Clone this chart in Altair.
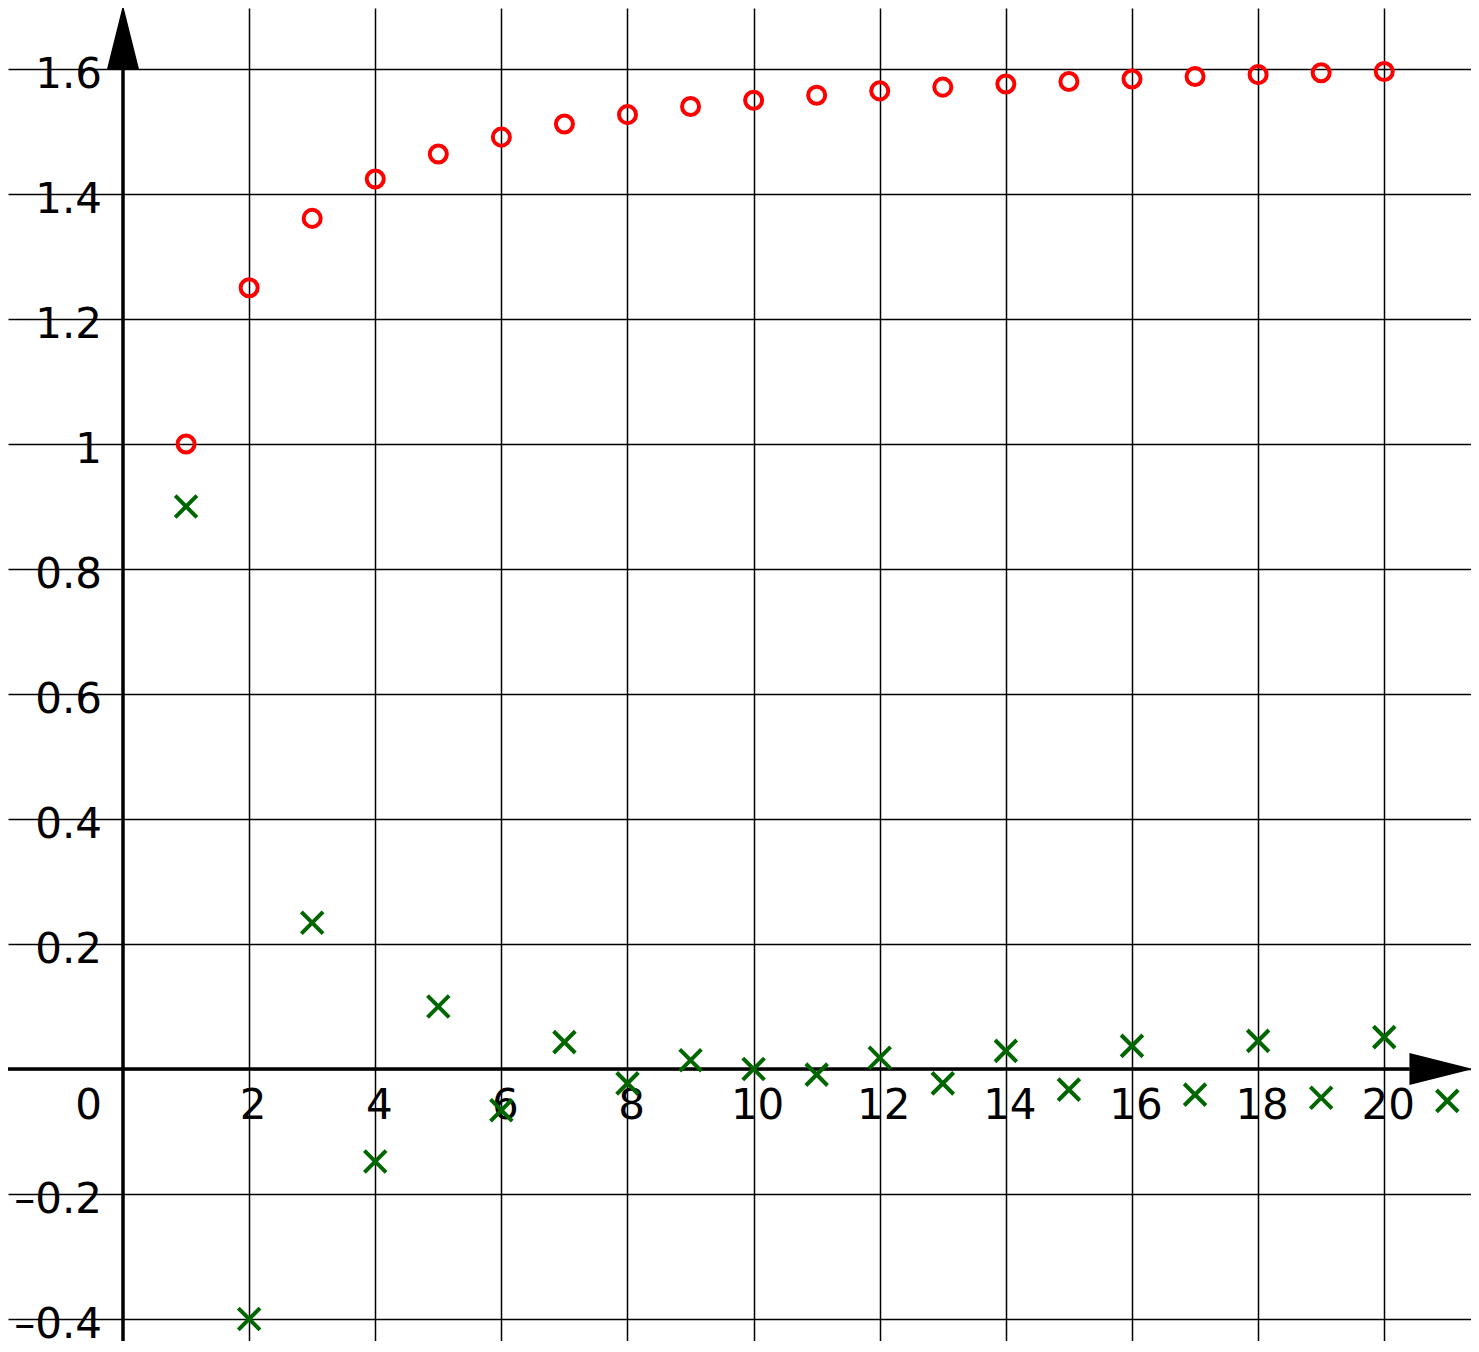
import altair as alt
import pandas as pd

# ---- data ----
n_red = list(range(1, 21))
red_vals = [1.0, 1.25, 1.361, 1.424, 1.464, 1.491, 1.512, 1.527, 1.540, 1.550,
            1.558, 1.565, 1.571, 1.576, 1.580, 1.584, 1.588, 1.591, 1.594, 1.596]

n_green = list(range(1, 22))
green_vals = [0.9, -0.4, 0.234, -0.148, 0.1, -0.066, 0.043, -0.023, 0.014, 0.0,
              -0.009, 0.018, -0.023, 0.029, -0.033, 0.037, -0.041, 0.045, -0.046,
              0.051, -0.051]

x_ticks = [2, 4, 6, 8, 10, 12, 14, 16, 18, 20]
x_tick_labels = ["2", "4", "6", "8", "10", "12", "14", "16", "18", "20"]
y_ticks = [-0.4, -0.2, 0.2, 0.4, 0.6, 0.8, 1.0, 1.2, 1.4, 1.6]
y_tick_labels = ["\u20130.4", "\u20130.2", "0.2", "0.4", "0.6", "0.8", "1", "1.2", "1.4", "1.6"]

# ---- layout ----
W, H = 1463, 1333
X_MIN, X_MAX = -1.8237, 21.376
Y_MIN, Y_MAX = -0.4352, 1.6976
FONT = "DejaVu Sans"
FS = 42
GREEN = "#006600"

xs = alt.Scale(domain=[X_MIN, X_MAX], nice=False, zero=False)
ys = alt.Scale(domain=[Y_MIN, Y_MAX], nice=False, zero=False)

grid_x = alt.Axis(values=x_ticks, grid=True, labels=False, ticks=False, domain=False,
                  title=None, gridColor="black", gridWidth=1.5, gridOpacity=1)
grid_y = alt.Axis(values=[-0.4, -0.2, 0, 0.2, 0.4, 0.6, 0.8, 1.0, 1.2, 1.4, 1.6],
                  grid=True, labels=False, ticks=False, domain=False,
                  title=None, gridColor="black", gridWidth=1.5, gridOpacity=1)

red_df = pd.DataFrame({"n": n_red, "v": red_vals})
green_df = pd.DataFrame({"n": n_green, "v": green_vals})

red = alt.Chart(red_df).mark_point(
    shape="circle", filled=False, color="red", strokeWidth=4, size=290, opacity=1
).encode(x=alt.X("n:Q", scale=xs, axis=grid_x), y=alt.Y("v:Q", scale=ys, axis=grid_y))

green = alt.Chart(green_df).mark_point(
    shape="M-1,-1L1,1M-1,1L1,-1", filled=False, color=GREEN, strokeWidth=4,
    size=470, opacity=1
).encode(x=alt.X("n:Q", scale=xs), y=alt.Y("v:Q", scale=ys))

# axes lines
yaxis_df = pd.DataFrame({"x": [0.0], "y": [Y_MIN], "y2": [1.6]})
yaxis = alt.Chart(yaxis_df).mark_rule(color="black", strokeWidth=3.5).encode(
    x=alt.X("x:Q", scale=xs), y=alt.Y("y:Q", scale=ys), y2="y2:Q")

xaxis_df = pd.DataFrame({"x": [X_MIN], "x2": [20.4], "y": [0.0]})
xaxis = alt.Chart(xaxis_df).mark_rule(color="black", strokeWidth=3.5).encode(
    x=alt.X("x:Q", scale=xs), x2="x2:Q", y=alt.Y("y:Q", scale=ys))

up_df = pd.DataFrame({"x": [0.0], "y": [1.6]})
up_arrow = alt.Chart(up_df).mark_point(
    shape="M0,-2L0.5,0L-0.5,0Z", filled=True, color="black", size=4096, opacity=1,
    strokeWidth=0
).encode(x=alt.X("x:Q", scale=xs), y=alt.Y("y:Q", scale=ys))

right_df = pd.DataFrame({"x": [20.4], "y": [0.0]})
right_arrow = alt.Chart(right_df).mark_point(
    shape="M0,-0.5L2,0L0,0.5Z", filled=True, color="black", size=4096, opacity=1,
    strokeWidth=0
).encode(x=alt.X("x:Q", scale=xs), y=alt.Y("y:Q", scale=ys))

# tick labels
ylab_df = pd.DataFrame({"x": [0.0] * len(y_ticks), "y": y_ticks, "t": y_tick_labels})
ylabels = alt.Chart(ylab_df).mark_text(
    font=FONT, fontSize=FS, align="right", baseline="alphabetic", dx=-21, dy=19,
    color="black"
).encode(x=alt.X("x:Q", scale=xs), y=alt.Y("y:Q", scale=ys), text="t:N")

xlab_df = pd.DataFrame({"x": x_ticks, "y": [0.0] * len(x_ticks), "t": x_tick_labels})
xlabels = alt.Chart(xlab_df).mark_text(
    font=FONT, fontSize=FS, align="center", baseline="alphabetic", dx=4, dy=50,
    color="black"
).encode(x=alt.X("x:Q", scale=xs), y=alt.Y("y:Q", scale=ys), text="t:N")

zero_df = pd.DataFrame({"x": [0.0], "y": [0.0], "t": ["0"]})
zlabel = alt.Chart(zero_df).mark_text(
    font=FONT, fontSize=FS, align="right", baseline="alphabetic", dx=-21, dy=50,
    color="black"
).encode(x=alt.X("x:Q", scale=xs), y=alt.Y("y:Q", scale=ys), text="t:N")

chart = alt.layer(
    red, yaxis, xaxis, up_arrow, right_arrow, ylabels, xlabels, zlabel, green
).properties(
    width=W, height=H, padding=0,
    autosize=alt.AutoSizeParams(type="none"),
    background="white"
).configure_view(stroke=None)

chart.save("out.html", embed_options={"renderer": "svg", "actions": False})
